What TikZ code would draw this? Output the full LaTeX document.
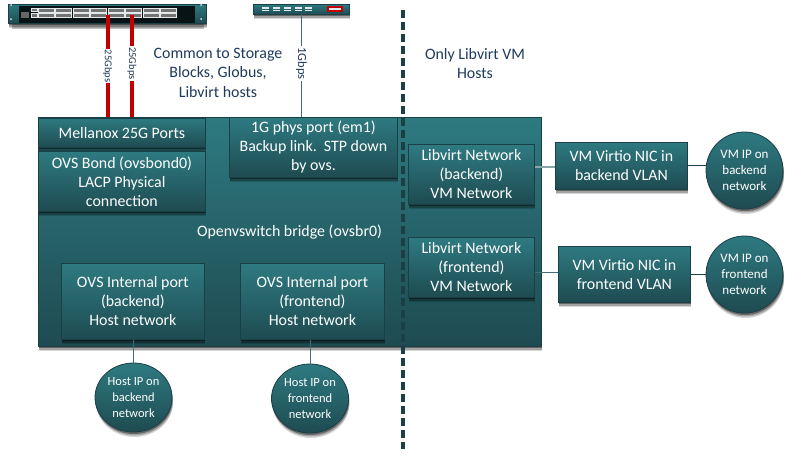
\documentclass[tikz,border=0pt]{standalone}
\usepackage{fontspec}
\setmainfont{Carlito}
\usetikzlibrary{shapes.geometric}
\definecolor{tealtop}{HTML}{2E7A81}
\definecolor{tealbot}{HTML}{1E4B51}
\definecolor{tealline}{HTML}{1A3F45}
\definecolor{wireteal}{HTML}{3F6E75}
\definecolor{wirepale}{HTML}{8AA5A8}
\definecolor{navytext}{HTML}{1F3A5C}
\definecolor{linkred}{HTML}{C00000}
\definecolor{portgrey}{HTML}{E4EAEA}
\tikzset{
    softshadow/.style={
        preaction={fill=black,opacity=.16,transform canvas={xshift=1pt,yshift=-5pt}},
        preaction={fill=black,opacity=.24,transform canvas={xshift=1pt,yshift=-3.5pt}},
        preaction={fill=black,opacity=.38,transform canvas={xshift=.5pt,yshift=-2pt}}},
    tealbox/.style={softshadow,draw=tealline,line width=.8pt,top color=tealtop,bottom color=tealbot,text=white,
        align=center,inner sep=0pt,anchor=north west,font=\fontsize{15.9}{19}\selectfont},
    tealball/.style={tealbox,ellipse,anchor=center,font=\fontsize{13}{16}\selectfont},
    wire/.style={wireteal,line width=.9pt},
    portbox/.style={draw=portgrey,fill=black!55,line width=.8pt},
    gbpslabel/.style={fill=white,rotate=-90,inner sep=1pt,text=navytext,font=\fontsize{10.5}{12}\selectfont},
    sidelabel/.style={align=center,text=navytext,font=\fontsize{15.9}{19.5}\selectfont}
}
\begin{document}
\begin{tikzpicture}[x=1pt,y=-1pt]
    \useasboundingbox (0,0) rectangle (791,455);

    % rack switches
    \fill[black,opacity=.25] (12,22) rectangle (204,29);
    \node[tealbox,minimum width=198pt,minimum height=19pt] (switchbig) at (8,4) {};
    \fill[black!75!tealbot] (19,6) rectangle (195,23);
    \foreach \x in {38,55.5,73,90.5,108,125.5,143,160.5} {
        \foreach \y in {8.5,13.5} {
        \draw[portbox] (\x,\y) rectangle +(16,4);}}
    \draw[portbox] (31,8) rectangle +(6,3.5);
    \draw[portbox] (31,13.5) rectangle +(6,3.5);
    \fill[black!60] (21,12) rectangle +(8,6);
    \fill[portgrey] (11,5) circle (1pt) (11,19) circle (1pt) (201,5) circle (1pt) (201,19) circle (1pt);
    \node[tealbox,minimum width=96pt,minimum height=10pt] (switchsmall) at (253,4) {};
    \foreach \x in {262,273,283.5,294.5,305} {
        \fill[portgrey] (\x,7) rectangle +(7,1.5);
        \fill[portgrey] (\x,9.5) rectangle +(7,1.5);}
    \fill[linkred] (327,6) rectangle +(16,6);
    \fill[portgrey] (329,8) rectangle +(12,2);
    \coordinate (upa) at (107.7,15);
    \coordinate (upb) at (132,15);
    \coordinate (upc) at (301.5,14);

    % bridge and its ports
    \node[tealbox,minimum width=503pt,minimum height=229pt] (ovsbr) at (38,117) {};
    \node[tealbox,minimum width=167pt,minimum height=29pt] (mellanox) at (38,118) {Mellanox 25G Ports};
    \node[tealbox,minimum width=167pt,minimum height=60pt] (ovsbond) at (38,151) {OVS Bond (ovsbond0)\\LACP Physical\\connection};
    \node[tealbox,minimum width=168pt,minimum height=60pt] (physport) at (229,117) {1G phys port (em1)\\Backup link.\ \ STP down\\by ovs.};
    \node[text=white,font=\fontsize{15.9}{19}\selectfont] (brlabel) at (289.5,232) {Openvswitch bridge (ovsbr0)};
    \node[tealbox,minimum width=143pt,minimum height=76pt] (intback) at (61,263) {OVS Internal port\\(backend)\\Host network};
    \node[tealbox,minimum width=144pt,minimum height=76pt] (intfront) at (240,263) {OVS Internal port\\(frontend)\\Host network};
    \node[tealbox,minimum width=126pt,minimum height=60pt] (virtback) at (408,144) {Libvirt Network\\(backend)\\VM Network};
    \node[tealbox,minimum width=126pt,minimum height=60pt] (virtfront) at (408,237) {Libvirt Network\\(frontend)\\VM Network};

    % VM side
    \node[tealbox,minimum width=132pt,minimum height=47pt] (nicback) at (555,142) {VM Virtio NIC in\\backend VLAN};
    \node[tealbox,minimum width=132pt,minimum height=56pt] (nicfront) at (558,246) {VM Virtio NIC in\\frontend VLAN};
    \node[tealball,minimum width=77pt,minimum height=77pt] (vmback) at (744.5,170.5) {VM IP on\\backend\\network};
    \node[tealball,minimum width=77pt,minimum height=77pt] (vmfront) at (744.5,274.5) {VM IP on\\frontend\\network};

    % host side
    \node[tealball,font=\fontsize{12.5}{15.7}\selectfont,minimum width=77pt,minimum height=69pt] (hostback) at (133.5,397.5) {Host IP on\\backend\\network};
    \node[tealball,font=\fontsize{12.5}{15.7}\selectfont,minimum width=77pt,minimum height=69pt] (hostfront) at (310,398.5) {Host IP on\\frontend\\network};

    % links
    \draw[linkred,line width=4pt] (upa) -- node[gbpslabel,pos=.50] (gbpsa) {25Gbps} (upa |- ovsbr.north);
    \draw[linkred,line width=4pt] (upb) -- node[gbpslabel,pos=.475] (gbpsb) {25Gbps} (upb |- ovsbr.north);
    \draw[wire] (upc) -- node[gbpslabel,pos=.48,font=\fontsize{12.5}{14}\selectfont] (gbpsc) {1Gbps} (upc |- ovsbr.north);
    \draw[wire] (intback.south -| hostback) -- (hostback.north);
    \draw[wire] (intfront.south -| hostfront) -- (hostfront.north);
    \draw[wirepale,line width=1.6pt] ([yshift=-1pt]nicback.west -| virtback.east) -- ([yshift=-1pt]nicback.west);
    \draw[wire] ([yshift=2pt]nicfront.west -| virtfront.east) -- ([yshift=2pt]nicfront.west);
    \draw[wire,tealline] (nicback.east) -- (nicback.east -| vmback.west);
    \draw[wire,tealline] (nicfront.east) -- (nicfront.east -| vmfront.west);

    % divider
    \coordinate (divtop) at (403,10);
    \coordinate (divbot) at (403,449);
    \draw[tealline,line width=4pt,dash pattern=on 8pt off 4pt] (divtop) -- (divbot);

    \node[sidelabel] (commonlabel) at (218,72.5) {Common to Storage\\Blocks, Globus,\\Libvirt hosts};
    \node[sidelabel] (onlylabel) at (475,63.5) {Only Libvirt VM\\Hosts};
\end{tikzpicture}
\end{document}
